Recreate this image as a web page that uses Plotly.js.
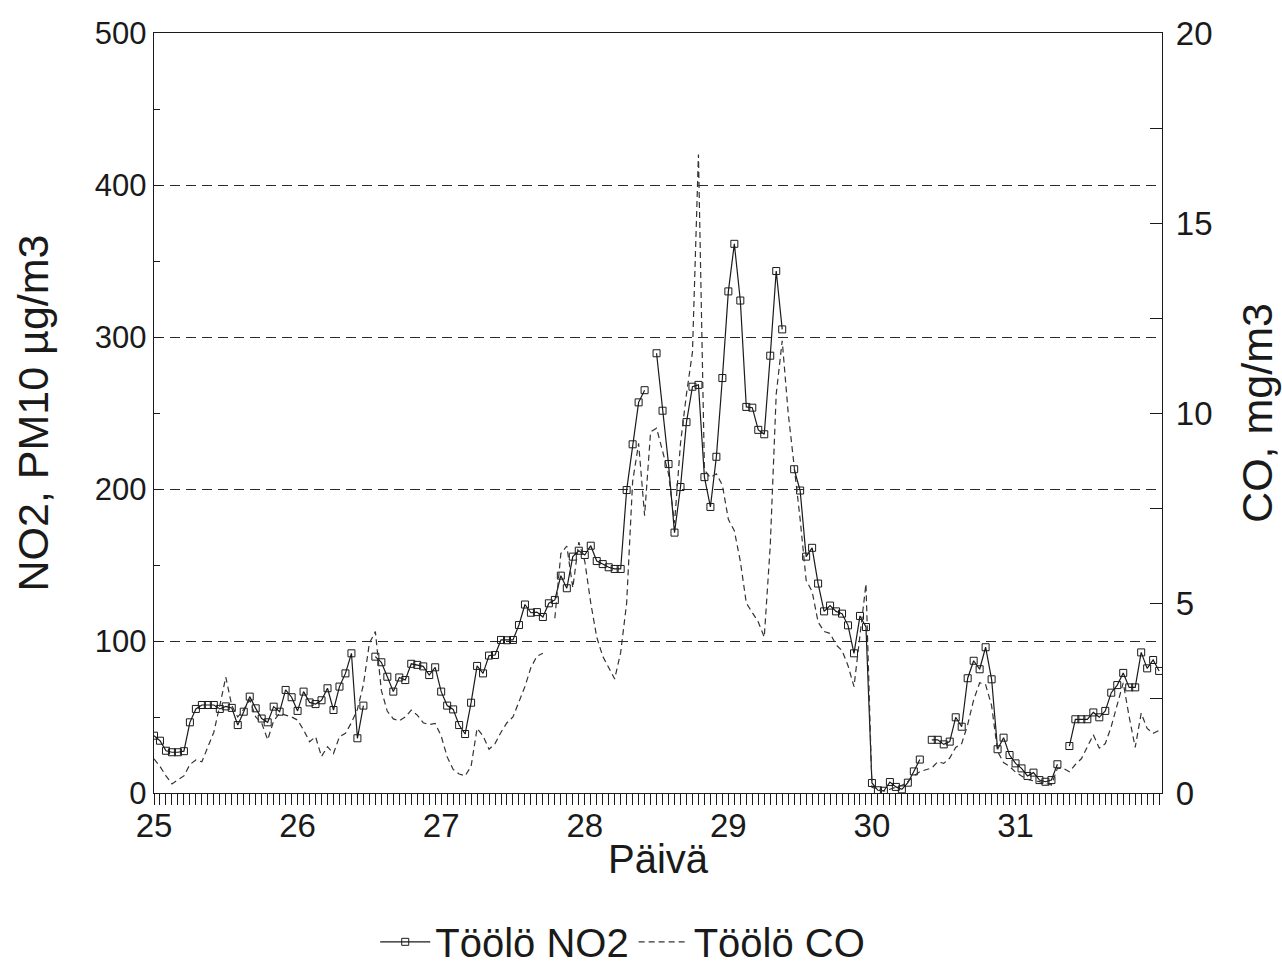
<!DOCTYPE html>
<html>
<head>
<meta charset="utf-8">
<script src="https://cdn.plot.ly/plotly-3.0.1.min.js"></script>
<style>
  html, body { margin: 0; padding: 0; background: #ffffff; }
  #chart { width: 1282px; height: 964px; }
</style>
</head>
<body>
<div id="chart"></div>
<script>
// Hourly series, starting at day 25, 00:00 (one value per hour)
const startDay = 25;
const hoursPerDay = 24;

const no2Name = 'Töölö NO2';
const coName = 'Töölö CO';

// NO2 (µg/m3), left axis
const no2Values = [
  37.7, 34.4, 27.8, 26.8, 26.8, 27.5, 46.5, 55.3, 57.9, 57.9, 57.9, 55.3,
  57, 56, 44.7, 53.5, 63.4, 55.7, 49, 46.5, 56.8, 53.5, 67.8, 63,
  54, 66.7, 59.6, 58.5, 61, 68.9, 54.6, 70, 78.7, 91.9, 36, 57.5,
  null, 89.7, 86, 76.5, 66.7, 76, 74.3, 85, 84.3, 83.3, 77.6, 82.7,
  66.7, 57.5, 55, 44.7, 38.8, 59.4, 83.6, 78.7, 90.4, 90.8, 100.7, 100.5,
  100.7, 110.5, 124, 118.6, 119, 115.8, 124.8, 127, 143, 134.7, 155.5, 159.4,
  156.6, 162.7, 152.6, 150.6, 148.5, 147.4, 147.4, 199.3, 229.4, 257, 265, null,
  289.3, 251.5, 216.4, 171.3, 201.3, 244, 267.3, 268.5, 207.8, 188.2, 221.2, 273,
  330, 361.3, 324, 254, 253.5, 238.9, 236, 287.7, 343.4, 305, null, 213,
  199, 155.5, 161.3, 137.8, 119.5, 123.3, 119.5, 118, 110.3, 91.9, 116.5, 109.2,
  6.6, 1.8, 1.5, 7.2, 4, 2.4, 6.8, 14.2, 22, null, 35, 35,
  32, 33.8, 49.8, 43.6, 75.5, 87, 81.4, 95.9, 74.8, 28.8, 36.4, 25,
  19.5, 16.2, 11.2, 13.4, 8.5, 7.4, 8.5, 18.9, null, 30.9, 48.5, 48.5,
  48.5, 53, 49.8, 54, 66, 71, 79, 69.5, 69.5, 92.5, 82, 87.5,
  80.3
];

// CO (mg/m3), right axis
const coValues = [
  0.9, 0.7, 0.45, 0.24, 0.35, 0.45, 0.75, 0.87, 0.82, 1.2, 1.6, 2.3,
  3.05, 2.3, 2.0, 2.2, 2.45, 2.0, 1.84, 1.4, 1.9, 2.1, 2.05, 2.0,
  1.92, 1.66, 1.35, 1.48, 0.96, 1.22, 1.04, 1.48, 1.57, 1.85, 2.2, 2.85,
  3.94, 4.25, 2.7, 2.15, 1.95, 1.9, 2.0, 2.18, 2.05, 1.85, 1.8, 1.83,
  1.5, 0.95, 0.62, 0.5, 0.45, 0.7, 1.7, 1.5, 1.15, 1.3, 1.6, 1.85,
  2.0, 2.4, 2.8, 3.3, 3.6, 3.68, null, 4.6, 6.3, 6.5, 5.4, 6.6,
  6.1, 5.0, 4.1, 3.6, 3.3, 3.0, 3.7, 5.0, 8.2, 9.2, 7.3, 9.5,
  9.6, 9.0, 8.4, 7.1, 9.2, 10.5, 11.6, 16.8, 8.5, 8.3, 8.4, 8.1,
  7.2, 6.9, 6.1, 5.0, 4.75, 4.5, 4.1, 6.5, 10.5, 11.9, 10.0, 8.6,
  7.2, 5.6, 5.3, 4.5, 4.25, 4.2, 3.9, 3.75, 3.35, 2.8, 4.1, 5.5,
  0.15, 0.1, 0.05, 0.1, 0.15, 0.2, 0.3, 0.45, 0.56, 0.6, 0.66, 0.82,
  0.78, 0.92, 1.2, 1.3, 1.8, 2.45, 2.9, 2.85, 2.3, 1.1, 0.8, 0.7,
  0.55, 0.45, 0.36, 0.32, 0.3, 0.25, 0.21, 0.65, 0.65, 0.56, 0.75, 0.9,
  1.2, 1.53, 1.18, 1.3, 1.75, 2.3, 2.9, 2.0, 1.2, 2.1, 1.7, 1.57,
  1.65
];

const dayTicks = [25, 26, 27, 28, 29, 30, 31];
const dayLabels = ['25', '26', '27', '28', '29', '30', '31'];
const leftTicks = [0, 100, 200, 300, 400, 500];
const rightTicks = [0, 5, 10, 15, 20];

const xTitle = 'Päivä';
const yTitle = 'NO2, PM10 µg/m3';
const y2Title = 'CO, mg/m3';

const timeOf = (i) => startDay + i / hoursPerDay;
const no2X = no2Values.map((_, i) => timeOf(i));
const coX = coValues.map((_, i) => timeOf(i));
const hourTicks = no2X.slice();

const ink = '#1a1a1a';
const fontFamily = 'Arial, "Liberation Sans", Helvetica, sans-serif';

const traces = [
  {
    x: no2X, y: no2Values, name: no2Name, type: 'scatter', mode: 'lines+markers',
    line: { color: ink, width: 1.2 },
    marker: { symbol: 'square-open', size: 7, color: ink, line: { width: 1, color: ink } },
    connectgaps: false, yaxis: 'y'
  },
  {
    x: coX, y: coValues, name: coName, type: 'scatter', mode: 'lines',
    line: { color: '#333333', width: 1.2, dash: '6px,4px' },
    connectgaps: false, yaxis: 'y2'
  }
];

const layout = {
  width: 1282, height: 964,
  paper_bgcolor: '#ffffff', plot_bgcolor: '#ffffff',
  margin: { l: 154, r: 120, t: 33, b: 171, pad: 0, autoexpand: false },
  font: { family: fontFamily, color: ink, size: 32 },
  showlegend: true,
  legend: {
    orientation: 'h', xref: 'paper', x: 0.465, xanchor: 'center',
    yref: 'container', y: 0.023, yanchor: 'middle',
    font: { size: 40, color: ink, family: fontFamily },
    bgcolor: 'rgba(0,0,0,0)', itemwidth: 50
  },
  xaxis: {
    range: [25, 32.02], showgrid: false, zeroline: false, automargin: false,
    showline: true, linecolor: ink, linewidth: 1.2, mirror: true,
    tickmode: 'array', tickvals: dayTicks, ticktext: dayLabels,
    ticks: 'outside', ticklen: 11, tickwidth: 1, tickcolor: ink,
    tickfont: { size: 33, color: ink }, ticklabelstandoff: -8,
    minor: { tickmode: 'array', tickvals: hourTicks, ticks: 'outside', ticklen: 11, tickwidth: 1, tickcolor: ink, showgrid: false },
    title: { text: xTitle, font: { size: 40, color: ink }, standoff: 2 }
  },
  yaxis: {
    range: [0, 500], zeroline: false, automargin: false,
    showline: true, linecolor: ink, linewidth: 1.2,
    tickmode: 'array', tickvals: leftTicks,
    ticks: 'inside', ticklen: 8, tickwidth: 1, tickcolor: ink,
    tickfont: { size: 31, color: ink },
    showgrid: true, gridcolor: '#2a2a2a', gridwidth: 1, griddash: '10px,6px',
    minor: { dtick: 50, tick0: 0, ticks: 'inside', ticklen: 6, tickwidth: 1, tickcolor: ink, showgrid: false },
    title: { text: yTitle, font: { size: 43, color: ink }, standoff: 32 }
  },
  yaxis2: {
    range: [0, 20], overlaying: 'y', side: 'right', zeroline: false, automargin: false,
    showline: true, linecolor: ink, linewidth: 1.2, showgrid: false,
    tickmode: 'array', tickvals: rightTicks,
    ticks: 'inside', ticklen: 12, tickwidth: 1, tickcolor: ink,
    tickfont: { size: 33, color: ink }, ticklabelstandoff: 6,
    minor: { dtick: 2.5, tick0: 0, ticks: 'inside', ticklen: 12, tickwidth: 1, tickcolor: ink, showgrid: false },
    title: { text: y2Title, font: { size: 43, color: ink }, standoff: 30 }
  }
};

Plotly.newPlot('chart', traces, layout, { displayModeBar: false, staticPlot: true });
</script>
</body>
</html>
